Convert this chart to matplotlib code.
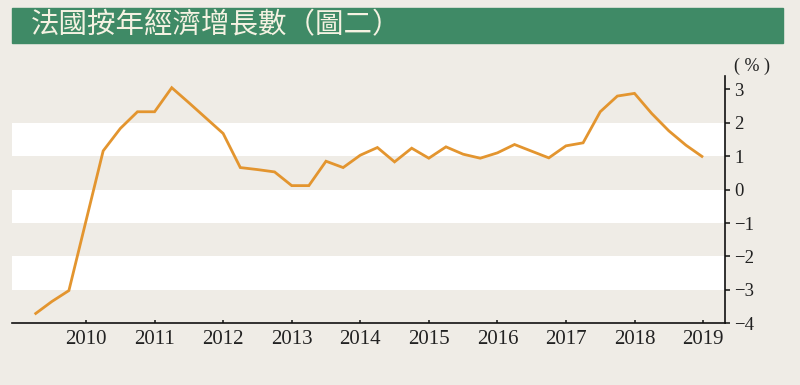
import matplotlib
matplotlib.use("Agg")
import matplotlib.pyplot as plt
from matplotlib.patches import Rectangle

# ---- data ----
quarters = [2009.25, 2009.50, 2009.75, 2010.00, 2010.25, 2010.50, 2010.75,
            2011.00, 2011.25, 2011.50, 2011.75, 2012.00, 2012.25, 2012.50,
            2012.75, 2013.00, 2013.25, 2013.50, 2013.75, 2014.00, 2014.25,
            2014.50, 2014.75, 2015.00, 2015.25, 2015.50, 2015.75, 2016.00,
            2016.25, 2016.50, 2016.75, 2017.00, 2017.25, 2017.50, 2017.75,
            2018.00, 2018.25, 2018.50, 2018.75, 2019.00]
growth = [-3.73, -3.35, -3.02, -0.93, 1.16, 1.83, 2.33,
          2.33, 3.05, 2.60, 2.14, 1.68, 0.66, 0.60,
          0.53, 0.12, 0.12, 0.85, 0.66, 1.03, 1.26,
          0.83, 1.24, 0.94, 1.28, 1.06, 0.94, 1.10,
          1.35, 1.15, 0.95, 1.31, 1.40, 2.33, 2.80,
          2.88, 2.28, 1.76, 1.33, 0.97]
year_ticks = [2010, 2011, 2012, 2013, 2014, 2015, 2016, 2017, 2018, 2019]
year_labels = [str(y) for y in year_ticks]
y_ticks = [-4, -3, -2, -1, 0, 1, 2, 3]
white_bands = [(1, 2), (-1, 0), (-3, -2)]
title = "法國按年經濟增長數（圖二）"
unit = "( % )"

W, H = 800, 385
bg = "#efece6"
fig = plt.figure(figsize=(W / 100, H / 100), dpi=100)
fig.patch.set_facecolor(bg)

# title bar
fig.patches.append(Rectangle((12 / W, 1 - 43.3 / H), (783 - 12) / W, 35 / H,
                             transform=fig.transFigure, color="#3f8a66", zorder=0))
fig.text(31 / W, 1 - 25.5 / H, title, ha="left", va="center", fontsize=20.5,
         color="#f5f2e2", family=["Noto Sans CJK TC", "DejaVu Sans"])

left, right, bottom, top = 12, 725, 323.3, 76
ax = fig.add_axes([left / W, 1 - bottom / H, (right - left) / W, (bottom - top) / H])
ax.set_facecolor(bg)
for lo, hi in white_bands:
    ax.axhspan(lo, hi, color="white", zorder=0, lw=0)

ax.plot(quarters, growth, color="#e3952f", lw=2.0, solid_joinstyle="miter",
        solid_capstyle="butt", zorder=3)

ax.set_xlim(2008.92, 2019.32)
ax.set_ylim(-4, 3.4)

for s in ["left", "top"]:
    ax.spines[s].set_visible(False)
for s in ["bottom", "right"]:
    ax.spines[s].set_color("#111111")
    ax.spines[s].set_linewidth(1.2)

ax.yaxis.tick_right()
ax.set_yticks(y_ticks)
ax.set_yticklabels([("\u2212" + str(abs(v))) if v < 0 else str(v) for v in y_ticks],
                   family="Liberation Serif", fontsize=13.5, color="#222222")
ax.tick_params(axis="y", direction="out", length=3.8, width=1.1, pad=3, colors="#111111",
               labelcolor="#222222")

ax.set_xticks(year_ticks)
ax.set_xticklabels(year_labels, family="Liberation Serif", fontsize=15, color="#222222")
ax.tick_params(axis="x", direction="in", length=2.5, width=1.1, pad=5, colors="#111111",
               labelcolor="#222222")

fig.text(752 / W, 1 - 66 / H, unit, ha="center", va="center", fontsize=13,
         family="Liberation Serif", color="#222222")

fig.savefig("out.png", dpi=100, facecolor=bg)
